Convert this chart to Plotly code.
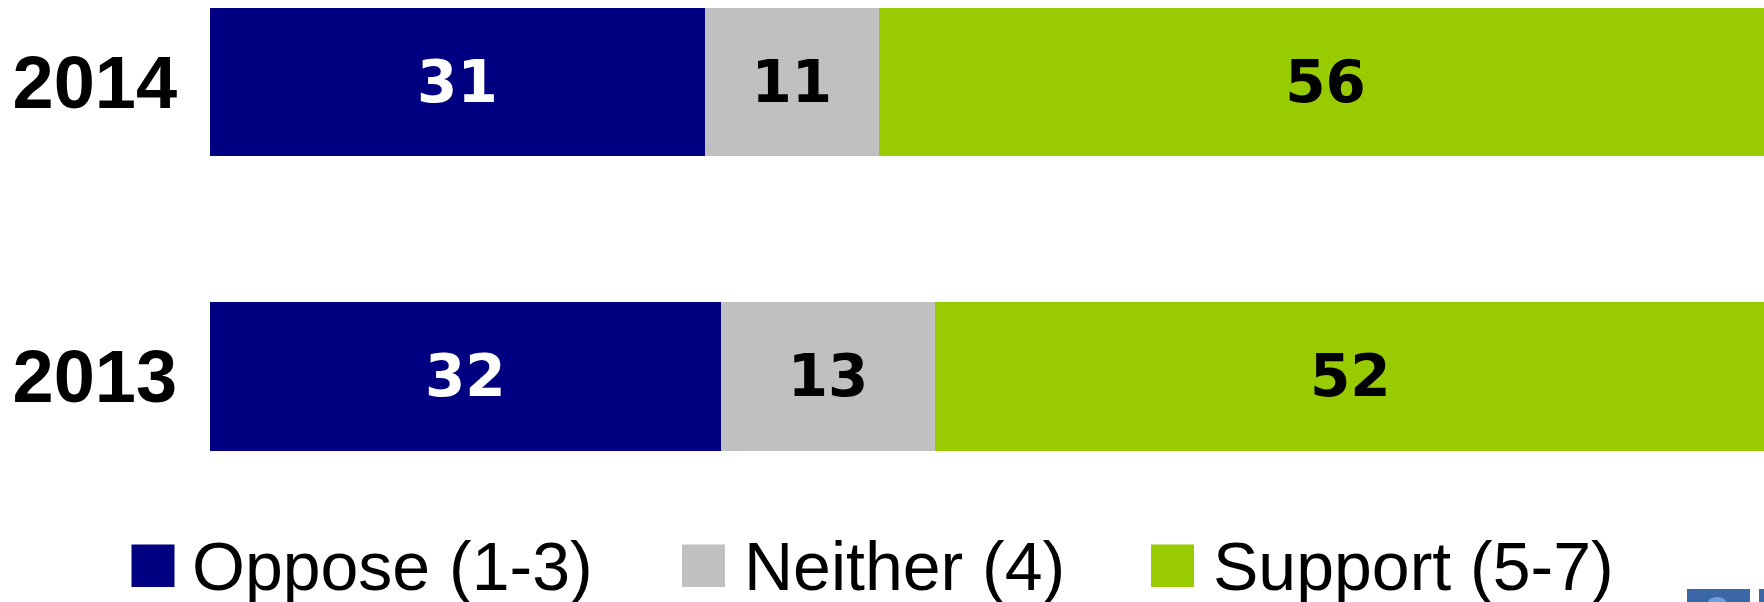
import plotly.graph_objects as go

W, H = 1764, 602
LEFT = 210

years = ["2013", "2014"]
oppose = [32, 31]
neither = [13.45, 10.9]
support = [52, 56]
oppose_labels = ["32", "31"]
neither_labels = ["13", "11"]
support_labels = ["52", "56"]
legend_labels = ["Oppose (1-3)", "Neither (4)", "Support (5-7)"]
colors = ["#000080", "#C0C0C0", "#99CC00"]
text_colors = ["white", "black", "black"]

fig = go.Figure()
for name, vals, labs, col, tc in zip(
    legend_labels, [oppose, neither, support],
    [oppose_labels, neither_labels, support_labels], colors, text_colors):
    fig.add_trace(go.Bar(
        y=years, x=vals, name=name, orientation="h", text=labs,
        textposition="inside", insidetextanchor="middle", textangle=0,
        constraintext="none",
        insidetextfont=dict(family="DejaVu Sans", size=58, color=tc, weight="bold"),
        marker=dict(color=col, line=dict(width=0)),
        hoverinfo="x+y+name",
    ))


def px(x):
    return (x - LEFT) / (W - LEFT)


def py(y):
    return 1 - y / H


shapes = []
annotations = []
swatch_x = [131.5, 682, 1151]
text_x = [191.5, 743.5, 1212.5]
for sx, tx, lab, col in zip(swatch_x, text_x, legend_labels, colors):
    shapes.append(dict(type="rect", xref="paper", yref="paper", x0=px(sx), x1=px(sx + 43),
                       y0=py(587), y1=py(544.5), fillcolor=col, line=dict(width=0)))
    annotations.append(dict(xref="paper", yref="paper", x=px(tx), y=py(566), text=lab,
                            showarrow=False, xanchor="left", yanchor="middle",
                            font=dict(family="Liberation Sans", size=68, color="black"),
                            borderpad=0, borderwidth=0))

# partly cropped logo in the lower right corner
shapes.append(dict(type="rect", xref="paper", yref="paper", x0=px(1687), x1=px(1750),
                   y0=py(602), y1=py(589), fillcolor="#3B66A8", line=dict(width=0)))
shapes.append(dict(type="rect", xref="paper", yref="paper", x0=px(1759), x1=px(1764),
                   y0=py(602), y1=py(589), fillcolor="#3B66A8", line=dict(width=0)))
shapes.append(dict(type="circle", xref="paper", yref="paper", x0=px(1708), x1=px(1726),
                   y0=py(608), y1=py(597), fillcolor="#6F9FDC", line=dict(width=0)))

fig.update_layout(
    width=W, height=H, autosize=False,
    margin=dict(l=LEFT, r=0, t=0, b=0, pad=0),
    paper_bgcolor="white", plot_bgcolor="white",
    barmode="stack", bargap=0.496, showlegend=False,
    shapes=shapes, annotations=annotations,
    xaxis=dict(range=[0, (W - LEFT) / 15.96], visible=False, fixedrange=True),
    yaxis=dict(type="category", categoryorder="array", categoryarray=years,
               range=[-0.766, 1.278], showgrid=False, zeroline=False, showline=False,
               ticks="outside", ticklen=17, tickcolor="rgba(0,0,0,0)",
               tickfont=dict(family="Liberation Sans", size=74, color="black", weight="bold"),
               fixedrange=True),
)
fig.write_html("out.html", config={"displayModeBar": False},
               post_script="document.body.style.margin='0';document.body.style.overflow='hidden';")
